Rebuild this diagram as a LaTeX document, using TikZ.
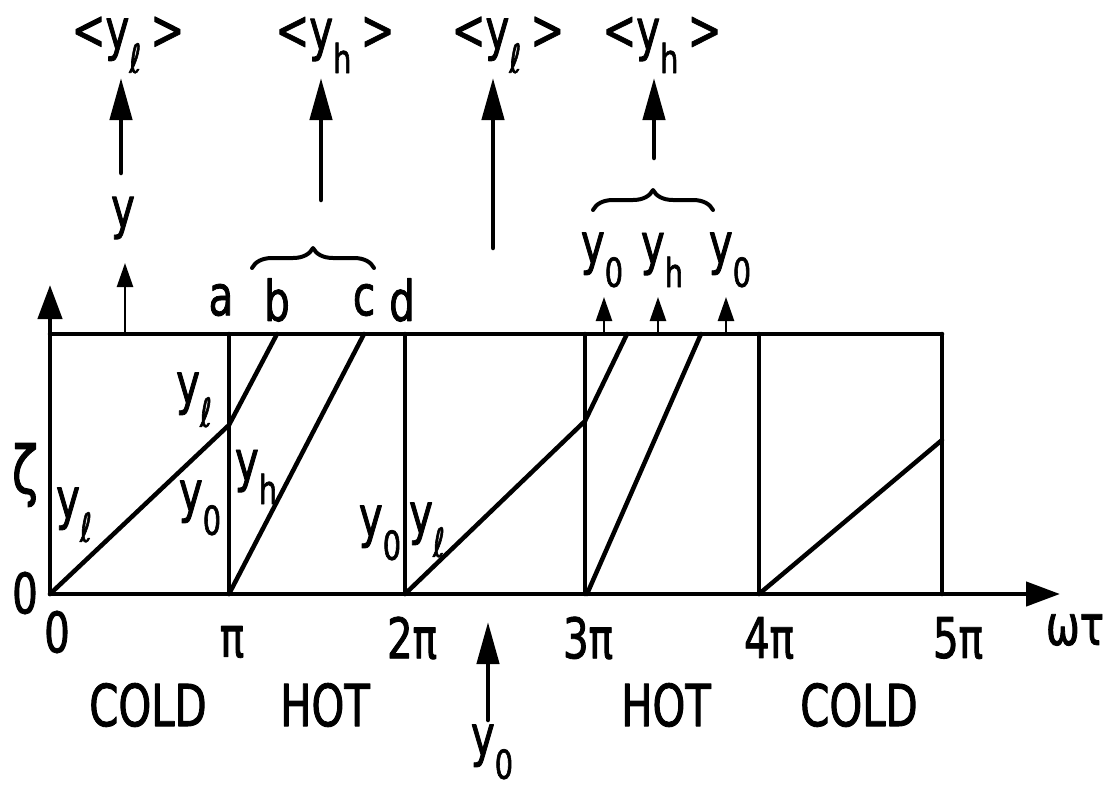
\documentclass[tikz,border=0pt]{standalone}
\usepackage{fontspec}
\setmainfont[FakeStretch=0.72,FakeBold=1.5]{DejaVu Sans}
\usetikzlibrary{arrows.meta,decorations.pathreplacing}
\newcommand\lsub[1]{\raisebox{-0.42em}{\fontsize{40}{40}\selectfont #1}}
\begin{document}
\begin{tikzpicture}[x=1pt,y=-1pt,line cap=round,line join=round,
  lab/.style={font=\fontsize{56}{56}\selectfont,inner sep=0pt},
  caps/.style={font=\fontsize{58}{58}\selectfont,inner sep=0pt},
  frameline/.style={line width=4.5pt},
  bigarrow/.style={line width=4.5pt,-{Triangle[width=22pt,length=42pt]}},
  smallarrow/.style={line width=2.5pt,-{Triangle[width=16pt,length=24pt]}},
  bracedeco/.style={decorate,decoration={brace,amplitude=20pt},line width=4pt}]
\useasboundingbox (0,0) rectangle (1109,790);
% frame coordinates
\coordinate (O) at (50,594);
\coordinate (Ytop) at (50,285);
\coordinate (Xend) at (1060,594);
\coordinate (T0) at (50,334);
\coordinate (T1) at (229,334);
\coordinate (T2) at (405,334);
\coordinate (T3) at (585,334);
\coordinate (T4) at (759,334);
\coordinate (T5) at (942,334);
\coordinate (B1) at (229,594);
\coordinate (B2) at (405,594);
\coordinate (B3) at (585,594);
\coordinate (B4) at (759,594);
\coordinate (B5) at (942,594);
% axes
\draw[frameline,-{Triangle[width=24pt,length=34pt]}] (O) -- (Xend);
\draw[frameline,-{Triangle[width=24pt,length=34pt]}] (O) -- (Ytop);
\draw[frameline] (T0) -- (T5);
\foreach \i in {1,...,5} \draw[frameline] (T\i) -- (B\i);
% profiles
\coordinate (P1) at (229,425);
\coordinate (Pb) at (277,334);
\coordinate (Pc) at (364,334);
\coordinate (P3) at (585,421);
\coordinate (Pb2) at (627,334);
\coordinate (Pc2) at (701,334);
\coordinate (P5) at (942,440);
\draw[frameline] (O) -- (P1) -- (Pb);
\draw[frameline] (B1) -- (Pc);
\draw[frameline] (B2) -- (P3) -- (Pb2);
\draw[frameline] (587,594) -- (Pc2);
\draw[frameline] (B4) -- (P5);
% small arrows on top line
\coordinate (s1a) at (125,334); \coordinate (s1b) at (125,263);
\draw[smallarrow] (s1a) -- (s1b);
\foreach \x [count=\k] in {604,658,726} {
  \coordinate (sa\k) at (\x,334); \coordinate (sb\k) at (\x,297);
  \draw[smallarrow] (sa\k) -- (sb\k);}
% big arrows
\coordinate (A1a) at (121,173); \coordinate (A1b) at (121,78);
\coordinate (A2a) at (321,200); \coordinate (A2b) at (321,78);
\coordinate (A3a) at (493,248); \coordinate (A3b) at (493,78);
\coordinate (A4a) at (654,158); \coordinate (A4b) at (654,78);
\coordinate (A5a) at (488,720); \coordinate (A5b) at (488,622);
\foreach \k in {1,...,5} \draw[bigarrow] (A\k a) -- (A\k b);
% braces
\draw[bracedeco] (252,268) -- (374,268);
\draw[bracedeco] (593,210) -- (713,210);
% top labels
\node[lab] (m1) at (128,45) {<y\lsub{ℓ}\,>};
\node[lab] (m2) at (335,45) {<y\lsub{h}\,>};
\node[lab] (m3) at (508,45) {<y\lsub{ℓ}\,>};
\node[lab] (m4) at (662,45) {<y\lsub{h}\,>};
\node[lab] (ylab) at (123,218) {y};
\node[lab] (la) at (221,300) {a};
\node[lab] (lb) at (277,300) {b};
\node[lab] (lc) at (364,300) {c};
\node[lab] (ld) at (402,300) {d};
\node[lab] (o1) at (602,260) {y\lsub{0}};
\node[lab] (h1) at (662,260) {y\lsub{h}};
\node[lab] (o2) at (730,260) {y\lsub{0}};
% inside labels
\node[font=\fontsize{66}{66}\selectfont,inner sep=0pt] (zeta) at (25,475) {ζ};
\node[lab] (yl1) at (74,515) {y\lsub{ℓ}};
\node[lab] (yl2) at (194,400) {y\lsub{ℓ}};
\node[lab] (yo1) at (200,508) {y\lsub{0}};
\node[lab] (yh1) at (256,477) {y\lsub{h}};
\node[lab] (yo2) at (380,533) {y\lsub{0}};
\node[lab] (yl3) at (427,530) {y\lsub{ℓ}};
% axis labels
\node[lab] (zero) at (25,593) {0};
\node[lab] (x0) at (57,632) {0};
\node[lab] (x1) at (232,642) {π};
\node[lab] (x2) at (412,638) {2π};
\node[lab] (x3) at (588,638) {3π};
\node[lab] (x4) at (769,638) {4π};
\node[lab] (x5) at (958,638) {5π};
\node[lab] (wt) at (1075,630) {ωτ};
\node[caps] (c1) at (148,705) {COLD};
\node[caps] (h1b) at (325,705) {HOT};
\node[caps] (h2b) at (666,705) {HOT};
\node[caps] (c2) at (859,705) {COLD};
\node[lab] (y0b) at (492,752) {y\lsub{0}};
\end{tikzpicture}
\end{document}
